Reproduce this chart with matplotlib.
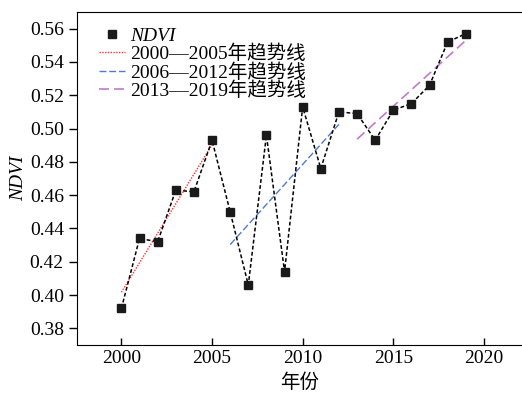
import numpy as np
import matplotlib
matplotlib.use("Agg")
import matplotlib.pyplot as plt
from matplotlib.lines import Line2D

plt.rcParams['font.family'] = ['Liberation Serif', 'Noto Sans CJK SC']
plt.rcParams['font.size'] = 14

years = [2000, 2001, 2002, 2003, 2004, 2005, 2006, 2007, 2008, 2009,
         2010, 2011, 2012, 2013, 2014, 2015, 2016, 2017, 2018, 2019]
ndvi = [0.392, 0.434, 0.432, 0.463, 0.462, 0.493, 0.450, 0.406, 0.496, 0.414,
        0.513, 0.476, 0.510, 0.509, 0.493, 0.511, 0.515, 0.526, 0.552, 0.557]
periods = [(2000, 2005), (2006, 2012), (2013, 2019)]
period_labels = ['2000—2005年趋势线', '2006—2012年趋势线', '2013—2019年趋势线']
xticks = [2000, 2005, 2010, 2015, 2020]
yticks = [0.38, 0.40, 0.42, 0.44, 0.46, 0.48, 0.50, 0.52, 0.54, 0.56]

fig = plt.figure(figsize=(5.22, 3.93), dpi=100)
ax = fig.add_axes([77/522, 1-345/393, 1-77/522, (345-12)/393])

yr = np.array(years)
nd = np.array(ndvi)
ax.plot(yr, nd, color='black', lw=1.1, ls=(0, (2.5, 1.5)), marker='s', ms=6,
        mfc='#1a1a1a', mec='#1a1a1a', label='NDVI', zorder=3)

styles = [dict(color='#ff3030', ls=(0, (1, 1)), lw=1.0),
          dict(color='#4f7ad0', ls=(0, (5, 2)), lw=1.0),
          dict(color='#c07ac8', ls=(0, (6, 3)), lw=1.2)]
handles = [Line2D([], [], color='black', ls='none', marker='s', ms=6, mfc='#1a1a1a', mec='#1a1a1a')]
for (a, b), st, lab in zip(periods, styles, period_labels):
    m = (yr >= a) & (yr <= b)
    k, c = np.polyfit(yr[m], nd[m], 1)
    xs = np.array([a, b])
    ax.plot(xs, k*xs + c, zorder=2, **st)
    handles.append(Line2D([], [], **st))

ax.set_xlim(1997.55, 2022.1)
ax.set_ylim(0.37, 0.57)
ax.set_xticks(xticks)
ax.set_yticks(yticks)
ax.set_yticklabels([f'{v:.2f}' for v in yticks])
ax.spines['right'].set_visible(False)
ax.tick_params(axis='y', direction='out', length=6, width=1)
ax.tick_params(axis='x', direction='in', length=5, width=1)
ax.set_xlabel('年份', labelpad=5)
ax.set_ylabel('NDVI', style='italic', labelpad=2)

labels = ['NDVI'] + period_labels
leg = ax.legend(handles, labels, loc='upper left', frameon=False,
                bbox_to_anchor=(99/522, 1-27/393), bbox_transform=fig.transFigure,
                borderpad=0, borderaxespad=0, handlelength=1.35, handletextpad=0.25,
                labelspacing=0.0)
leg.get_texts()[0].set_style('italic')

fig.savefig('out.png', dpi=100)
